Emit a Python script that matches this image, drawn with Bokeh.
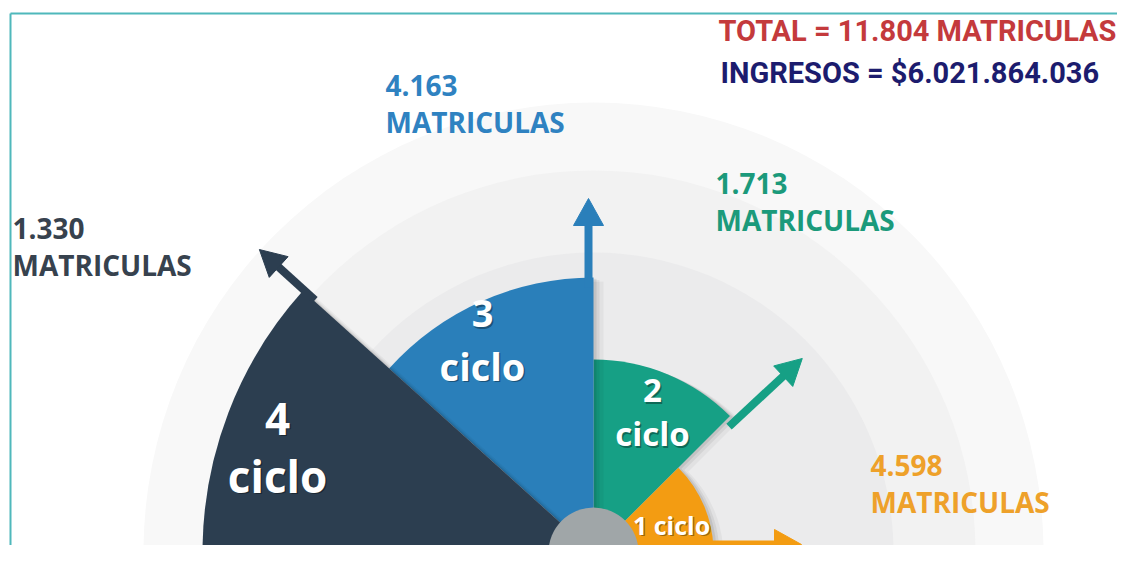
import math
from bokeh.plotting import figure
from bokeh.models import Range1d
from bokeh.core.properties import value
from bokeh.embed import file_html
from bokeh.resources import INLINE

# ---------------- data ----------------
ciclos = ["1 ciclo", "2 ciclo", "3 ciclo", "4 ciclo"]
ciclo_num = ["1", "2", "3", "4"]
matriculas = [4598, 1713, 4163, 1330]
matriculas_txt = ["4.598", "1.713", "4.163", "1.330"]
unidad = "MATRICULAS"
total_txt = "TOTAL = 11.804 MATRICULAS"
ingresos_txt = "INGRESOS = $6.021.864.036"

# ---------------- layout / style ----------------
W, H = 1117, 545
def Y(py):  # picture y -> data y
    return H - py

CX, CY = 593, Y(552)
ang_start = [0, 45, 90, 138]
ang_end = [45, 90, 138, 180]
radius = [120, 193, 275, 391]
colors = ["#f39c12", "#16a085", "#2a7fba", "#2c3e50"]
text_colors = ["#eea12a", "#1b9a7b", "#2f82c1", "#37424e"]
arrow_ang = [0, 42.9, 90, 137.8]
arrow_r = [(112, 208), (185, 285), (265, 354), (376, 451)]
arrow_off = [8, 0, 5, 0]
arrow_w = [8, 8, 8, 8]
head_len = [27, 26, 27, 26]
head_half = [15, 14, 15, 14]

value_pos = [(870, 465), (715, 183), (385, 85), (12, 228)]
inner_pos = [(671, 524, None), (652, 390, 433), (482, 313, 365), (277, 418, 475)]
inner_size = ["25px", "33px", "38px", "44px"]

band_r = [450, 382, 300]
band_c = ["#f8f8f8", "#f2f2f2", "#ebebec"]

p = figure(width=W, height=H, output_backend="svg", toolbar_location=None,
           x_range=Range1d(0, W), y_range=Range1d(0, H),
           x_axis_location=None, y_axis_location=None, min_border=0)
p.grid.visible = False
p.outline_line_color = None
p.background_fill_color = "white"
p.border_fill_color = "white"

# background bands
for r, c in zip(band_r, band_c):
    p.wedge(x=CX, y=CY, radius=r, start_angle=0, end_angle=math.pi,
            fill_color=c, line_color=None)

# wedges with soft shadows
order = [1, 0, 2, 3]
for i in order:
    for k, a in [(10, 0.04), (6, 0.06), (3, 0.08)]:
        p.wedge(x=CX + k, y=CY - k * 0.4, radius=radius[i],
                start_angle=math.radians(ang_start[i]), end_angle=math.radians(ang_end[i]),
                fill_color="black", fill_alpha=a, line_color=None)
    p.wedge(x=CX, y=CY, radius=radius[i],
            start_angle=math.radians(ang_start[i]), end_angle=math.radians(ang_end[i]),
            fill_color=colors[i], line_color=None)

# arrows
for i in range(4):
    a = math.radians(arrow_ang[i])
    ux, uy = math.cos(a), math.sin(a)
    nx, ny = -uy, ux
    ox, oy = CX + arrow_off[i] * nx, CY + arrow_off[i] * ny
    r0, r1 = arrow_r[i]
    x0, y0 = ox + r0 * ux, oy + r0 * uy
    xt, yt = ox + r1 * ux, oy + r1 * uy
    xb, yb = xt - head_len[i] * ux, yt - head_len[i] * uy
    p.segment(x0=x0, y0=y0, x1=xb + 2 * ux, y1=yb + 2 * uy, line_color=colors[i],
              line_width=arrow_w[i])
    p.patch(x=[xt, xb + head_half[i] * nx, xb - head_half[i] * nx],
            y=[yt, yb + head_half[i] * ny, yb - head_half[i] * ny],
            fill_color=colors[i], line_color=colors[i])

# gray hub
p.circle(x=CX, y=CY, radius=45, fill_color="#a0a6a8", line_color=None)

# inner labels
for i in range(4):
    cx, y1, y2 = inner_pos[i]
    lines = [(ciclos[i], y1)] if y2 is None else [(ciclo_num[i], y1), ("ciclo", y2)]
    for t, py in lines:
        p.text(x=cx + 1.5, y=Y(py) - 1.5, text=[t], text_color="black", text_alpha=0.35,
               text_font=value("Open Sans"), text_font_style="bold",
               text_font_size=inner_size[i], text_align="center", text_baseline="middle")
        p.text(x=cx, y=Y(py), text=[t], text_color="white",
               text_font=value("Open Sans"), text_font_style="bold",
               text_font_size=inner_size[i], text_align="center", text_baseline="middle")

# value labels
for i in range(4):
    px, py = value_pos[i]
    p.text(x=px, y=Y(py), text=[matriculas_txt[i]], text_color=text_colors[i],
           text_font=value("Open Sans"), text_font_style="bold", text_font_size="28px",
           text_align="left", text_baseline="middle")
    p.text(x=px, y=Y(py + 36), text=[unidad], text_color=text_colors[i],
           text_font=value("Open Sans"), text_font_style="bold", text_font_size="28px",
           text_align="left", text_baseline="middle")

# header texts
p.text(x=718, y=Y(30), text=[total_txt], text_color="#c43a3c",
       text_font=value("Roboto"), text_font_style="bold", text_font_size="29px",
       text_align="left", text_baseline="middle")
p.text(x=720, y=Y(72), text=[ingresos_txt], text_color="#1c1c6e",
       text_font=value("Roboto"), text_font_style="bold", text_font_size="29px",
       text_align="left", text_baseline="middle")

# frame lines (top and left)
p.segment(x0=[10, 10], y0=[Y(13), Y(13)], x1=[W, 10], y1=[Y(13), 0],
          line_color="#4fb8bb", line_width=2)

open("out.html", "w").write(file_html(p, INLINE))
